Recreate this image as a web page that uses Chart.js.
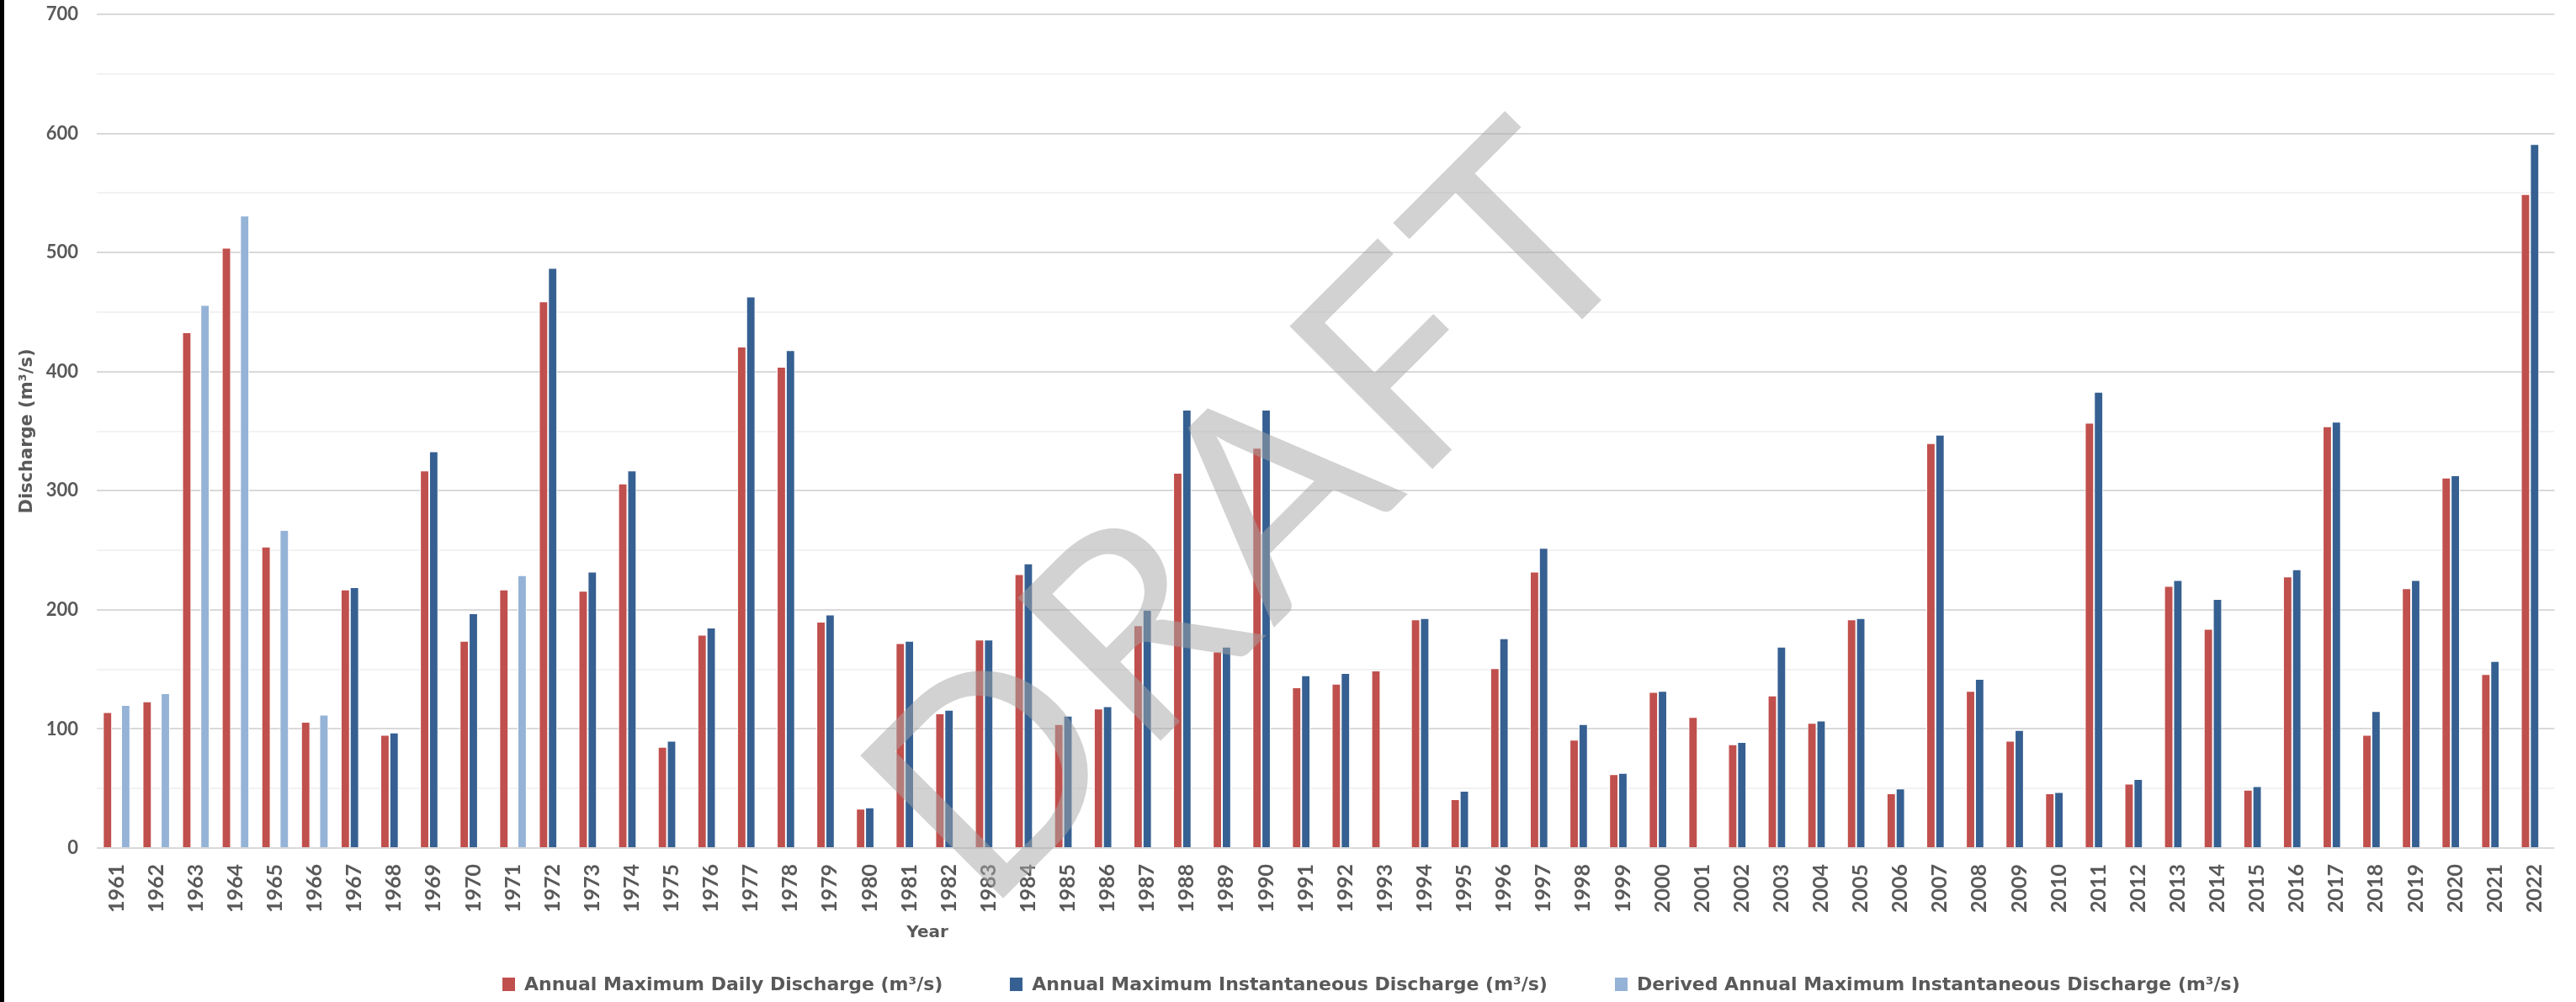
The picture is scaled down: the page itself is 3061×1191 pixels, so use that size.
<!DOCTYPE html>
<html>
<head>
<meta charset="utf-8">
<title>Annual Maximum Discharge</title>
<script src="https://cdn.jsdelivr.net/npm/chart.js@4.4.0/dist/chart.umd.min.js"></script>
<style>
  html, body { margin: 0; padding: 0; background: #fff; }
  #wrap { position: relative; width: 3061px; height: 1191px; overflow: hidden; }
  #frame { position: absolute; left: 0; top: 0; width: 5px; height: 1191px; background: #000; }
  #legend {
    position: absolute; top: 1159px; left: 597px;
    display: flex; align-items: center; gap: 80px;
    font: bold 22px "DejaVu Sans", sans-serif; line-height: 22px; color: #595959;
  }
  #legend .item { display: flex; align-items: center; white-space: nowrap; }
  #legend .box { width: 15px; height: 16px; margin-right: 11px; }
</style>
</head>
<body>
<div id="wrap">
  <canvas id="chart" width="3061" height="1191"></canvas>
  <div id="frame"></div>
  <div id="legend"></div>
</div>
<script>
// ===== DADOS =====
const years = [
  '1961', '1962', '1963', '1964', '1965', '1966', '1967', '1968', '1969', '1970',
  '1971', '1972', '1973', '1974', '1975', '1976', '1977', '1978', '1979', '1980',
  '1981', '1982', '1983', '1984', '1985', '1986', '1987', '1988', '1989', '1990',
  '1991', '1992', '1993', '1994', '1995', '1996', '1997', '1998', '1999', '2000',
  '2001', '2002', '2003', '2004', '2005', '2006', '2007', '2008', '2009', '2010',
  '2011', '2012', '2013', '2014', '2015', '2016', '2017', '2018', '2019', '2020',
  '2021', '2022'
];

// Annual Maximum Daily Discharge (m³/s)
const dailyMax = [
  114, 123, 433, 504, 253, 106, 217, 95, 317, 174,
  217, 459, 216, 306, 85, 179, 421, 404, 190, 33,
  172, 113, 175, 230, 104, 117, 187, 315, 165, 336,
  135, 138, 149, 192, 41, 151, 232, 91, 62, 131,
  110, 87, 128, 105, 192, 46, 340, 132, 90, 46,
  357, 54, 220, 184, 49, 228, 354, 95, 218, 311,
  146, 549
];

// Annual Maximum Instantaneous Discharge (m³/s)
const instMax = [
  null, null, null, null, null, null, 219, 97, 333, 197,
  null, 487, 232, 317, 90, 185, 463, 418, 196, 34,
  174, 116, 175, 239, 111, 119, 200, 368, 169, 368,
  145, 147, null, 193, 48, 176, 252, 104, 63, 132,
  null, 89, 169, 107, 193, 50, 347, 142, 99, 47,
  383, 58, 225, 209, 52, 234, 358, 115, 225, 313,
  157, 591
];

// Derived Annual Maximum Instantaneous Discharge (m³/s)
const derivedMax = [
  120, 130, 456, 531, 267, 112, null, null, null, null,
  229, null, null, null, null, null, null, null, null, null,
  null, null, null, null, null, null, null, null, null, null,
  null, null, null, null, null, null, null, null, null, null,
  null, null, null, null, null, null, null, null, null, null,
  null, null, null, null, null, null, null, null, null, null,
  null, null
];

const seriesNames = [
  'Annual Maximum Daily Discharge (m³/s)',
  'Annual Maximum Instantaneous Discharge (m³/s)',
  'Derived Annual Maximum Instantaneous Discharge (m³/s)'
];

const yTickLabels = ['0', '100', '200', '300', '400', '500', '600', '700'];

// Cores
const colors = {
    red: '#C0504D',
    darkBlue: '#366092',
    lightBlue: '#95B3D7',
    text: '#595959',
    gridMajor: '#d9d9d9',
    gridMinor: '#f2f2f2'
};

// Marca d'água "DRAFT" e título do eixo X
const extrasPlugin = {
    id: 'extras',
    afterDatasetsDraw(chart) {
        const ctx = chart.ctx;
        ctx.save();
        ctx.translate(1481, 609);
        ctx.rotate(-Math.PI / 4);
        ctx.font = '335px Lato';
        ctx.letterSpacing = '10px';
        ctx.fillStyle = 'rgba(166, 166, 166, 0.5)';
        ctx.textAlign = 'center';
        ctx.textBaseline = 'alphabetic';
        ctx.fillText('DRAFT', 5, 120);
        ctx.restore();
    },
    afterDraw(chart) {
        const ctx = chart.ctx;
        const area = chart.chartArea;
        ctx.save();
        ctx.font = 'bold 20px "DejaVu Sans"';
        ctx.fillStyle = colors.text;
        ctx.textAlign = 'center';
        ctx.textBaseline = 'alphabetic';
        ctx.fillText('Year', area.left + (area.right - area.left) * 0.338, 1114);
        ctx.restore();
    }
};

const chart = new Chart(document.getElementById('chart'), {
    type: 'bar',
    data: {
        labels: years,
        datasets: [
            { label: seriesNames[0], data: dailyMax, backgroundColor: colors.red },
            { label: seriesNames[1], data: instMax, backgroundColor: colors.darkBlue },
            { label: seriesNames[2], data: derivedMax, backgroundColor: colors.lightBlue }
        ]
    },
    options: {
        responsive: false,
        animation: false,
        layout: { padding: { left: 20, right: 25, top: 17, bottom: 100 } },
        datasets: {
            bar: {
                categoryPercentage: 0.69,
                barPercentage: 1,
                borderWidth: 1,
                borderColor: '#ffffff'
            }
        },
        plugins: {
            legend: { display: false },
            tooltip: { enabled: false }
        },
        scales: {
            x: {
                grid: { display: false, drawTicks: false },
                border: { display: false },
                ticks: {
                    autoSkip: false,
                    minRotation: 90,
                    maxRotation: 90,
                    padding: 19,
                    color: colors.text,
                    font: { family: 'Lato', weight: 'bold', size: 25 }
                },
                afterFit(scale) { scale.height = 83; }
            },
            y: {
                min: 0,
                max: 700,
                border: { display: false },
                grid: {
                    drawTicks: false,
                    lineWidth: 2,
                    color: (c) => (c.tick && c.tick.value % 100 === 0) ? colors.gridMajor : colors.gridMinor
                },
                ticks: {
                    stepSize: 50,
                    padding: 22,
                    color: colors.text,
                    font: { family: 'Lato', weight: 'bold', size: 22 },
                    callback: (v) => yTickLabels.includes(String(v)) ? String(v) : ''
                },
                title: {
                    display: true,
                    text: 'Discharge (m³/s)',
                    color: colors.text,
                    font: { family: 'DejaVu Sans', weight: 'bold', size: 21 },
                    padding: { top: 0, bottom: 0 }
                },
                afterFit(scale) {
                    scale.width = 95;
                    scale.paddingTop = 0;
                    scale.paddingBottom = 0;
                }
            }
        }
    },
    plugins: [extrasPlugin]
});

// Legenda
const legendEl = document.getElementById('legend');
chart.data.datasets.forEach(function(ds) {
    const item = document.createElement('div');
    item.className = 'item';
    const box = document.createElement('span');
    box.className = 'box';
    box.style.background = ds.backgroundColor;
    const txt = document.createElement('span');
    txt.textContent = ds.label;
    item.appendChild(box);
    item.appendChild(txt);
    legendEl.appendChild(item);
});
</script>
</body>
</html>
